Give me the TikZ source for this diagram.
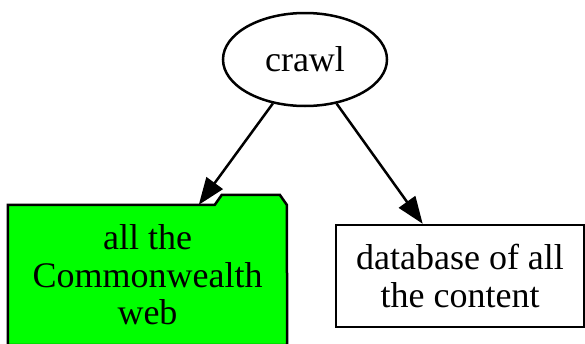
\documentclass[tikz,border=0pt]{standalone}
\usepackage{fontspec}
\setmainfont{Liberation Serif}
\usetikzlibrary{arrows.meta,backgrounds,calc,shapes.geometric}
\definecolor{foldergreen}{HTML}{00FF00}
\begin{document}
\begin{tikzpicture}[x=1pt,y=-1pt,
  every node/.style={font=\fontsize{36}{37.5}\selectfont, align=center, inner sep=0pt},
  outline/.style={draw=black, line width=2.5pt},
  link/.style={draw=black, line width=2.5pt, -{Triangle[length=27pt,width=20pt]}},
  ]
  \clip (0,0) rectangle (585,343);

  % nodes
  \node[outline, ellipse, minimum width=164pt, minimum height=93pt] (crawl) at (305,59.5) {crawl};
  \node[rectangle, minimum width=279pt, minimum height=140pt] (web) at (147.5,275)
    {all the\\Commonwealth\\web};
  \node[outline, rectangle, minimum width=248pt, minimum height=102pt] (db) at (460,276)
    {database of all\\the content};

  % folder outline behind the text
  \begin{scope}[on background layer]
    \path[outline, fill=foldergreen]
      (web.south west) -- (web.north west)
      -- ($(web.north west)+(207,0)$) -- ++(7,-10) -- ++(58,0) -- ++(7,10)
      -- (web.south east) -- cycle;
  \end{scope}

  % edges
  \draw[link] (crawl) -- (web);
  \draw[link] (crawl) -- (db);
\end{tikzpicture}
\end{document}
